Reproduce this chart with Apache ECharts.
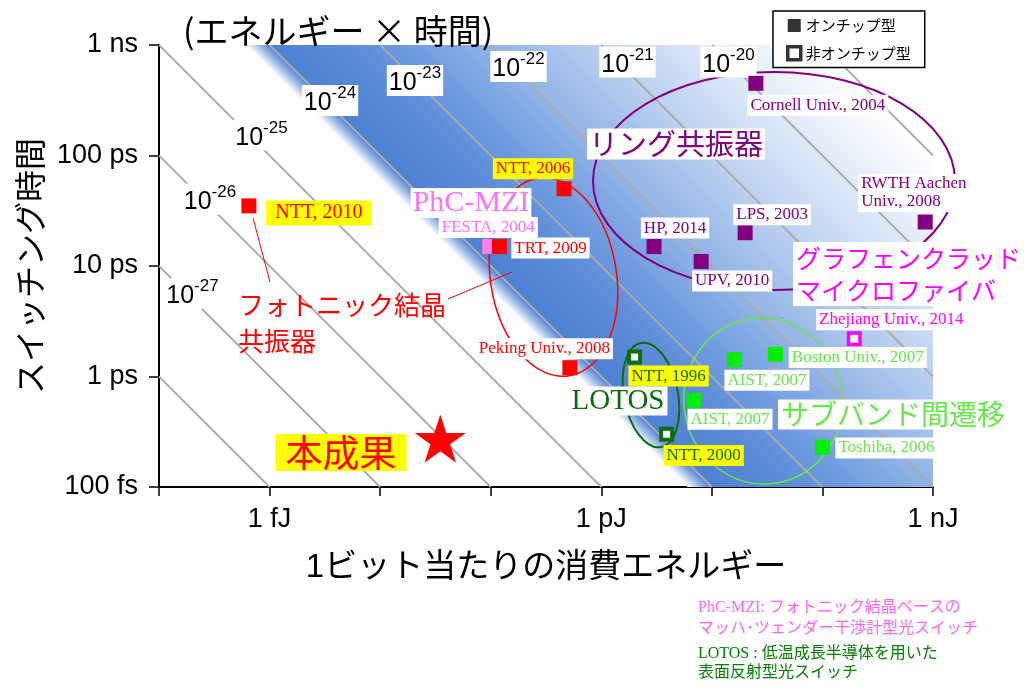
<!DOCTYPE html>
<html><head><meta charset="utf-8">
<script src="https://cdn.jsdelivr.net/npm/echarts@6/dist/echarts.min.js"></script>
<style>html,body{margin:0;padding:0;background:#fff}#c{width:1024px;height:692px}</style>
</head><body><div id="c"></div>
<script>
// ---------------- data (energy in J, switching time in s) ----------------
const phcNames = ['NTT, 2010', 'NTT, 2006', 'TRT, 2009', 'Peking Univ., 2008'];
const phcEnergy = [6.5e-16, 4.6e-13, 1.2e-13, 5.2e-13];
const phcTime = [3.5e-11, 5.0e-11, 1.5e-11, 1.2e-12];

const mziNames = ['FESTA, 2004'];
const mziEnergy = [9.8e-14];
const mziTime = [1.5e-11];

const ringNames = ['Cornell Univ., 2004', 'RWTH Aachen\nUniv., 2008', 'LPS, 2003', 'HP, 2014', 'UPV, 2010'];
const ringEnergy = [2.5e-11, 8.5e-10, 2.0e-11, 3.0e-12, 8.0e-12];
const ringTime = [4.5e-10, 2.5e-11, 2.0e-11, 1.5e-11, 1.1e-11];

const isbtNames = ['AIST, 2007', 'AIST, 2007', 'Boston Univ., 2007', 'Toshiba, 2006'];
const isbtEnergy = [1.6e-11, 6.9e-12, 3.75e-11, 1.0e-10];
const isbtTime = [1.42e-12, 6.1e-13, 1.59e-12, 2.3e-13];

const lotosNames = ['NTT, 1996', 'NTT, 2000'];
const lotosEnergy = [2.0e-12, 3.9e-12];
const lotosTime = [1.5e-12, 3.0e-13];

const grapheneNames = ['Zhejiang Univ., 2014'];
const grapheneEnergy = [1.94e-10];
const grapheneTime = [2.2e-12];

const thisWorkEnergy = [3.5e-14];
const thisWorkTime = [2.74e-13];

// constant energy x time lines (exponent of J*s)
const productExponents = [-28, -27, -26, -25, -24, -23, -22, -21, -20, -19];
const labeledProducts = [-27, -26, -25, -24, -23, -22, -21, -20];

const xTickLabels = { '-15': '1 fJ', '-12': '1 pJ', '-9': '1 nJ' };
const yTickLabels = { '-9': '1 ns', '-10': '100 ps', '-11': '10 ps', '-12': '1 ps', '-13': '100 fs' };
const legendNames = ['オンチップ型', '非オンチップ型'];

// blue band: edge on the 1e-24 line, fading to white near 1e-19
const gradientStops = [[-24.22, '#ffffff'], [-24, '#4d81d2'], [-23.3, '#5c8cd8'], [-22.7, '#719de0'],
  [-22.0, '#92b3e6'], [-21.5, '#a6c2eb'], [-20.9, '#bfd3f1'], [-20.3, '#d6e3f6'], [-19.7, '#eaf1fa'], [-19, '#ffffff']];

// ---------------- styling ----------------
const serif = '"Liberation Serif", "Noto Sans CJK JP", serif';
const sans = '"Liberation Sans", "Noto Sans CJK JP", sans-serif';
const cjk = '"Noto Sans CJK JP", "Liberation Sans", sans-serif';
const RED = '#ff0000', PURPLE = '#800080', GREEN = '#00f000', LGREEN = '#66e84a',
  DGREEN = '#0a6e0a', MAGENTA = '#ff00ff', PINK = '#ff70ff', YELLOW = '#ffff00';

const phcLabel = [
  { offset: [70, 7], backgroundColor: YELLOW, fontSize: 20, padding: [3, 9] },
  { offset: [-31, -20], backgroundColor: YELLOW },
  { offset: [51, 1.5] },
  { offset: [-25.5, -19] }];
const mziLabel = [{ offset: [-1.5, -19] }];
const ringLabel = [
  { offset: [62, 22] },
  { offset: [-67, -29], align: 'left', lineHeight: 18 },
  { offset: [27, -18] },
  { offset: [21, -18.5] },
  { offset: [31, 19.5] }];
const isbtLabel = [{ offset: [32.5, 20.5] }, { offset: [36, 19] }, { offset: [82.5, 3.3] }, { offset: [64, 1] }];
const lotosLabel = [{ offset: [34, 19], backgroundColor: YELLOW }, { offset: [37, 21.3], backgroundColor: YELLOW }];
const grapheneLabel = [{ offset: [37, -19] }];

function scatterSeries(name, E, T, names, labels, color, item, size, z) {
  return {
    type: 'scatter', name: name, z: z, symbol: 'rect', symbolSize: size, clip: false,
    itemStyle: Object.assign({ opacity: 1 }, item), silent: true,
    label: { show: true, position: 'inside', formatter: '{b}', color: color, fontFamily: serif, fontSize: 17,
      backgroundColor: '#fff', padding: [1, 3], lineHeight: 19 },
    data: E.map((e, i) => ({ value: [e, T[i]], name: names[i], label: labels[i] }))
  };
}

const lineSeries = productExponents.map(p => {
  const P = Math.pow(10, p);
  const e1 = Math.max(1e-16, P / 1e-9), e2 = Math.min(1e-9, P / 1e-13);
  return { type: 'line', z: 2, silent: true, symbol: 'none', animation: false,
    lineStyle: { color: '#ababab', width: 1.8 },
    data: [[e1, P / e1], [e2, P / e2]] };
});

const bandSeries = {
  type: 'custom', z: 1, silent: true, clip: true,
  data: [[1e-12, 1e-11]],
  renderItem: function (params, api) {
    const pF = Math.pow(10, gradientStops[0][0]);
    const pW = Math.pow(10, gradientStops[gradientStops.length - 1][0]);
    const a = api.coord([pF / 1e-9, 1e-9]), b = api.coord([pF / 1e-13, 1e-13]);
    const c = api.coord([1e-9, 1e-13]), d = api.coord([1e-9, 1e-9]);
    const f = api.coord([pF / 1e-10, 1e-10]), w = api.coord([pW / 1e-10, 1e-10]);
    const sF = f[0] - f[1], sW = w[0] - w[1];
    const k = (sW - sF) / 2;
    const span = gradientStops[gradientStops.length - 1][0] - gradientStops[0][0];
    const stops = gradientStops.map(s => ({ offset: (s[0] - gradientStops[0][0]) / span, color: s[1] }));
    return { type: 'polygon', shape: { points: [a, b, c, d] },
      style: { fill: new echarts.graphic.LinearGradient(f[0], f[1], f[0] + k, f[1] - k, stops, true) } };
  }
};

// ---------------- annotations ----------------
const lineLabelPos = [[192.5, 293.5], [210, 199], [261.5, 135], [330, 100.5], [415, 80.5], [518.5, 66.5], [627.5, 62], [728.5, 62]];
const lineLabels = labeledProducts.map((p, i) => ({
  type: 'text', z: 4, x: lineLabelPos[i][0], y: lineLabelPos[i][1], silent: true,
  style: { text: '{a|10}{b|' + p + '}', align: 'center', verticalAlign: 'middle', backgroundColor: '#fff', padding: [0, 2],
    rich: { a: { fontSize: 25, fontFamily: sans, fill: '#000', lineHeight: 31, verticalAlign: 'bottom' },
            b: { fontSize: 17, fontFamily: sans, fill: '#000', lineHeight: 17, verticalAlign: 'top' } } }
}));

const notes = [
  { text: 'PhC-MZI', x: 471, y: 203, fill: PINK, font: serif, size: 30, bg: '#fff', pad: [0, 2] },
  { text: 'リング共振器', x: 676, y: 144, fill: PURPLE, font: cjk, size: 29, bg: '#fff', pad: [1, 2] },
  { text: 'グラフェンクラッド\nマイクロファイバ', x: 793, y: 274, fill: MAGENTA, font: cjk, size: 25, bg: '#fff', align: 'left', lh: 32, pad: [0, 3] },
  { text: 'フォトニック結晶\n共振器', x: 238, y: 323, fill: RED, font: cjk, size: 26, align: 'left', lh: 36 },
  { text: 'サブバンド間遷移', x: 893, y: 414.5, fill: LGREEN, font: cjk, size: 28, bg: '#fff', pad: [1, 3] },
  { text: 'LOTOS', x: 618, y: 401, fill: DGREEN, font: serif, size: 29, bg: '#fff', pad: [0, 3] },
  { text: '本成果', x: 341, y: 452.5, fill: RED, font: cjk, size: 37, bg: YELLOW, pad: [0, 10] },
  { text: 'PhC-MZI: フォトニック結晶ベースの', x: 698, y: 608, fill: '#ff66ff', font: serif, size: 16, align: 'left' },
  { text: 'マッハ･ツェンダー干渉計型光スイッチ', x: 698, y: 628.5, fill: '#ff66ff', font: serif, size: 16, align: 'left' },
  { text: 'LOTOS : 低温成長半導体を用いた', x: 698, y: 653.5, fill: '#008000', font: serif, size: 16, align: 'left' },
  { text: '表面反射型光スイッチ', x: 698, y: 673, fill: '#008000', font: serif, size: 16, align: 'left' }
].map(n => ({
  type: 'text', z: 6, x: n.x, y: n.y, silent: true,
  style: { text: n.text, fill: n.fill, fontFamily: n.font, fontSize: n.size, align: n.align || 'center', verticalAlign: 'middle',
    lineHeight: n.lh, backgroundColor: n.bg, padding: n.pad }
}));

const ellipses = [
  { x: 553.5, y: 277, rx: 63, ry: 100, rot: 0.16, stroke: RED, w: 1.5 },
  { x: 774, y: 181, rx: 181, ry: 109, rot: 0, stroke: PURPLE, w: 2 },
  { x: 651, y: 395, rx: 27, ry: 53, rot: 0.19, stroke: DGREEN, w: 2 },
  { x: 763, y: 401, rx: 79, ry: 83, rot: 0.18, stroke: LGREEN, w: 1.5 }
].map(e => ({ type: 'ellipse', z: 3, x: e.x, y: e.y, rotation: e.rot, silent: true,
  shape: { cx: 0, cy: 0, rx: e.rx, ry: e.ry }, style: { fill: 'rgba(0,0,0,0)', stroke: e.stroke, lineWidth: e.w } }));

const leaders = [[253, 218, 270, 282], [448, 299, 512, 272]].map(l => ({
  type: 'line', z: 3, silent: true, shape: { x1: l[0], y1: l[1], x2: l[2], y2: l[3] }, style: { stroke: RED, lineWidth: 1 } }));

const starPath = 'path://M50,0 L61.2,34.5 L97.6,34.5 L68.2,55.9 L79.4,90.5 L50,69.1 L20.6,90.5 L31.8,55.9 L2.4,34.5 L38.8,34.5 Z';

const chart = echarts.init(document.getElementById('c'));
chart.setOption({
  animation: false,
  backgroundColor: '#fff',
  title: { text: '(エネルギー × 時間)', left: 178, top: 9,
    textStyle: { fontSize: 34, fontWeight: 'normal', fontFamily: cjk, color: '#000' } },
  legend: {
    orient: 'vertical', left: 773, top: 11, itemWidth: 13, itemHeight: 13, itemGap: 12,
    padding: [7, 14, 6, 13], borderColor: '#000', borderWidth: 1.5, backgroundColor: '#fff', borderRadius: 0,
    selectedMode: false, z: 10,
    textStyle: { fontSize: 15, fontFamily: cjk, color: '#000' },
    data: [
      { name: legendNames[0], icon: 'rect', itemStyle: { color: '#000', borderWidth: 0 } },
      { name: legendNames[1], icon: 'rect', itemStyle: { color: '#fff', borderColor: '#000', borderWidth: 3.5 } }]
  },
  grid: { left: 159, top: 45, width: 774, height: 442, containLabel: false, outerBoundsMode: 'none' },
  xAxis: {
    type: 'log', logBase: 10, min: 1e-16, max: 1e-9,
    name: '1ビット当たりの消費エネルギー', nameLocation: 'middle', nameGap: 64,
    nameTextStyle: { fontSize: 33, fontFamily: sans, color: '#000' },
    axisLine: { show: true, lineStyle: { color: '#000', width: 2 } },
    axisTick: { show: true, length: 9, lineStyle: { color: '#000', width: 1.5 } },
    minorTick: { show: false }, splitLine: { show: false }, minorSplitLine: { show: false },
    axisLabel: { margin: 19, fontSize: 27, fontFamily: sans, color: '#000', showMinLabel: true, showMaxLabel: true,
      formatter: v => xTickLabels[String(Math.round(Math.log10(v)))] || '' }
  },
  yAxis: {
    type: 'log', logBase: 10, min: 1e-13, max: 1e-9,
    name: 'スイッチング時間', nameLocation: 'middle', nameGap: 112, nameRotate: 90,
    nameTextStyle: { fontSize: 32, fontFamily: cjk, color: '#000' },
    axisLine: { show: true, lineStyle: { color: '#000', width: 2 } },
    axisTick: { show: true, length: 10, lineStyle: { color: '#000', width: 1.5 } },
    minorTick: { show: false }, splitLine: { show: false }, minorSplitLine: { show: false },
    axisLabel: { margin: 21, fontSize: 27, fontFamily: sans, color: '#000', showMinLabel: true, showMaxLabel: true,
      formatter: v => yTickLabels[String(Math.round(Math.log10(v)))] || '' }
  },
  graphic: [].concat(ellipses, leaders, lineLabels, notes),
  series: [bandSeries].concat(lineSeries, [
    scatterSeries('PhC-MZI', mziEnergy, mziTime, mziNames, mziLabel, PINK, { color: '#ff80ee' }, 15, 4),
    scatterSeries('PhC', phcEnergy, phcTime, phcNames, phcLabel, RED, { color: RED }, 15, 5),
    scatterSeries('Ring', ringEnergy, ringTime, ringNames, ringLabel, PURPLE, { color: PURPLE }, 15, 5),
    scatterSeries('ISBT', isbtEnergy, isbtTime, isbtNames, isbtLabel, LGREEN, { color: GREEN }, 15, 5),
    scatterSeries('LOTOS', lotosEnergy, lotosTime, lotosNames, lotosLabel, DGREEN,
      { color: '#fff', borderColor: DGREEN, borderWidth: 4 }, 11, 5),
    scatterSeries('Graphene', grapheneEnergy, grapheneTime, grapheneNames, grapheneLabel, MAGENTA,
      { color: '#fff', borderColor: MAGENTA, borderWidth: 3.5 }, 11.5, 5),
    { type: 'scatter', name: 'thisWork', z: 5, symbol: starPath, symbolSize: [51, 48], silent: true, clip: false,
      itemStyle: { color: RED, opacity: 1 }, data: thisWorkEnergy.map((e, i) => [e, thisWorkTime[i]]) },
    { type: 'scatter', name: legendNames[0], data: [], symbol: 'rect', itemStyle: { color: '#000' } },
    { type: 'scatter', name: legendNames[1], data: [], symbol: 'rect', itemStyle: { color: '#fff', borderColor: '#000', borderWidth: 3.5 } }
  ])
});
</script></body></html>
